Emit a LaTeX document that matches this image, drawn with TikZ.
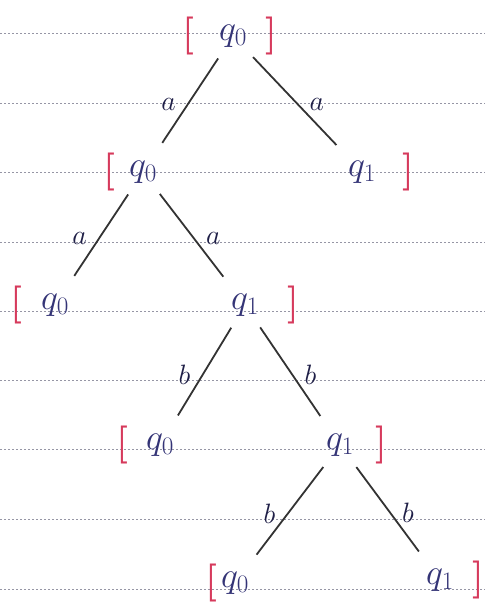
\RequirePackage{fix-cm}
\documentclass[tikz,border=0pt]{standalone}
\usepackage{xcolor}
\usepackage{tikz}
\usetikzlibrary{positioning}

\definecolor{inkblue}{RGB}{52,52,118}
\definecolor{inkred}{RGB}{214,58,92}
\definecolor{ruleline}{RGB}{150,150,165}

\begin{document}
\begin{tikzpicture}[x=1pt, y=-1pt,
  state/.style={font=\fontsize{36}{36}\selectfont, text=inkblue, inner sep=1pt},
  brk/.style={font=\fontsize{38}{38}\selectfont\bfseries, text=inkred, inner sep=0pt},
  edge/.style={line width=1.8pt, draw=black!80, shorten <=12pt, shorten >=20pt},
  lbl/.style={font=\fontsize{28}{28}\selectfont, text=inkblue!60!black}]
  \useasboundingbox (0,0) rectangle (485,609);
  % ruled paper
  \foreach \y in {33,103,172,242,311,380,449,519,589}
    \draw[ruleline, line width=0.6pt, dash pattern=on 2pt off 2pt] (0,\y) -- (485,\y);

  % states
  \node[state] (root) at (233,36)  {$q_0$};
  \node[state] (l)    at (143,172) {$q_0$};
  \node[state] (r)    at (362,172) {$q_1$};
  \node[state] (ll)   at (55,305)  {$q_0$};
  \node[state] (lr)   at (245,305) {$q_1$};
  \node[state] (lrl)  at (160,445) {$q_0$};
  \node[state] (lrr)  at (340,445) {$q_1$};
  \node[state] (lrrl) at (235,583) {$q_0$};
  \node[state] (lrrr) at (440,580) {$q_1$};

  % brackets
  \node[brk, left=23pt of root]  (root-ob) {[};
  \node[brk, right=17pt of root] (root-cb) {]};
  \node[brk, left=12pt of l]     (l-ob)    {[};
  \node[brk, right=25pt of r]    (r-cb)    {]};
  \node[brk, left=17pt of ll]    (ll-ob)   {[};
  \node[brk, right=27pt of lr]   (lr-cb)   {]};
  \node[brk, left=16pt of lrl]   (lrl-ob)  {[};
  \node[brk, right=20pt of lrr]  (lrr-cb)  {]};
  \node[brk, left=2pt of lrrl]   (lrrl-ob) {[};
  \node[brk, right=17pt of lrrr] (lrrr-cb) {]};

  % transitions
  \draw[edge] (root) -- node[lbl, midway, left=8pt]  {$a$} (l);
  \draw[edge] (root) -- node[lbl, midway, right=8pt] {$a$} (r);
  \draw[edge] (l)    -- node[lbl, midway, left=8pt]  {$a$} (ll);
  \draw[edge] (l)    -- node[lbl, midway, right=8pt] {$a$} (lr);
  \draw[edge] (lr)   -- node[lbl, midway, left=8pt]  {$b$} (lrl);
  \draw[edge] (lr)   -- node[lbl, midway, right=8pt] {$b$} (lrr);
  \draw[edge] (lrr)  -- node[lbl, midway, left=8pt]  {$b$} (lrrl);
  \draw[edge] (lrr)  -- node[lbl, midway, right=8pt] {$b$} (lrrr);
\end{tikzpicture}
\end{document}
